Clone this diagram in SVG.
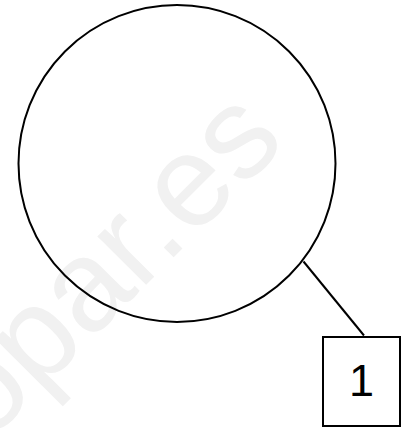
<svg xmlns="http://www.w3.org/2000/svg" width="408" height="430" viewBox="0 0 408 430">
<style>
.ln{fill:none;stroke:#000;stroke-width:2}
.wm{font-family:"Liberation Sans",Arial,sans-serif;font-size:130px;fill:#f1f1f1}
.lbl{font-family:"Liberation Sans",Arial,sans-serif;font-size:45px;fill:#000;text-anchor:middle}
</style>
<rect width="408" height="430" fill="#fff"/>
<text class="wm" text-anchor="end" transform="translate(288,143) rotate(-45)">opar.es</text>
<g id="circle"><circle class="ln" cx="177" cy="163.5" r="158.5" fill="none"/></g>
<g id="connectors"><line class="ln" x1="303.5" y1="261.5" x2="364" y2="335.5"/></g>
<g id="box1"><rect class="ln" x="323" y="337" width="77" height="89" fill="#fff"/><text class="lbl" x="361.5" y="396">1</text></g>
</svg>
